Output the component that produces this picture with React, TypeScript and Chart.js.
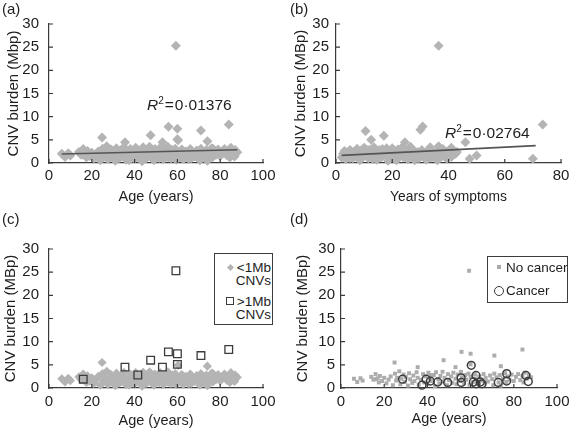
import React, { useEffect, useRef } from 'react';
import { Chart, registerables } from 'chart.js';
Chart.register(...registerables);

const FONT = "'Liberation Sans', Arial, Helvetica, sans-serif";
Chart.defaults.font.family = FONT;

const TEXT = '#1e1e1e';
const AXIS = '#3a3a3a';
const DIAMOND = 'rgb(180,180,180)';
const SMALLSQ = 'rgb(172,172,172)';
const DARK = '#3c3c3c';
const TREND = '#555555';

// ---- Data (age panels a, c, d) ----
// patients with only <1Mb CNVs and no cancer
const lowAge = [6, 7.5, 9, 10, 14, 15, 16, 17, 17.5, 18, 19, 20, 21, 22, 23, 24, 25, 25.5, 26, 27, 27.5, 28, 29, 29.5, 30, 31, 31.5, 32, 33, 33.5, 34, 35, 35.5, 36, 37, 38, 38.5, 39, 40, 40.5, 41, 42, 43, 43.5, 44, 45, 45.5, 46, 47, 47.5, 48, 49, 49.5, 50, 51, 51.5, 52, 53, 53.5, 54, 55, 55.5, 56, 57, 57.5, 58, 59, 59.5, 60, 61, 62, 62.5, 63, 64, 65, 66, 66.5, 67, 68, 69, 70, 70.5, 71, 72, 73, 73.5, 74, 75, 76, 76.5, 77, 78, 79, 80, 81, 82, 83, 84, 84.5, 85, 86, 87, 88, 24.8, 74];
const lowBurden = [2.0, 1.3, 2.1, 1.6, 2.4, 1.8, 3.0, 2.1, 1.2, 2.6, 1.5, 2.2, 1.0, 1.8, 2.5, 0.6, 3.1, 1.6, 2.2, 3.6, 0.8, 2.0, 2.9, 1.3, 2.4, 0.5, 3.2, 1.9, 1.1, 2.7, 1.5, 3.4, 2.2, 0.7, 1.8, 3.0, 1.2, 2.5, 0.9, 3.3, 2.0, 1.5, 2.8, 0.4, 3.4, 1.9, 1.0, 2.6, 3.5, 1.4, 2.2, 0.6, 3.0, 1.7, 2.5, 1.1, 3.3, 2.0, 0.8, 2.9, 1.5, 3.5, 2.3, 1.0, 2.8, 1.8, 3.1, 0.7, 2.4, 1.3, 2.9, 1.9, 0.9, 2.5, 1.6, 3.0, 1.0, 2.2, 1.4, 2.7, 1.9, 0.6, 3.1, 2.3, 1.2, 2.8, 0.5, 2.0, 3.2, 1.3, 2.5, 1.8, 2.9, 1.5, 2.4, 3.0, 1.7, 2.6, 1.2, 3.3, 2.0, 2.8, 2.3, 5.5, 4.7];
// patients with >1Mb CNVs
const bigAge = [16, 35.5, 41.5, 47.5, 53, 55.8, 60, 60, 59.3, 71, 84];
const bigBurden = [1.9, 4.5, 2.8, 6.0, 4.5, 7.8, 7.4, 5.1, 25.3, 7.0, 8.3];
// cancer patients
const cancerAge = [28.5, 37.5, 39.4, 41.4, 44.8, 49.4, 55.6, 55.7, 60.3, 61.3, 62.5, 62.5, 64.5, 65.3, 72.8, 76.7, 76.7, 85.6, 86.7];
const cancerBurden = [1.9, 0.6, 1.9, 1.5, 1.3, 1.2, 2.2, 1.2, 4.9, 1.3, 2.7, 0.9, 1.3, 0.9, 1.2, 3.1, 1.5, 2.7, 1.4];
// trend line (a)
const trendAgeX = [6, 88];
const trendAgeY = [1.93, 2.85];

// ---- Data (years of symptoms, panel b) ----
const symYears = [2, 2.5, 3, 3.5, 4, 4.5, 5, 5.5, 6, 6.5, 7, 7.5, 8, 8.5, 9, 9.5, 10, 10.5, 11, 11.5, 12, 12.5, 13, 13.5, 14, 14.5, 15, 15.5, 16, 16.5, 17, 17.5, 18, 18.5, 19, 19.5, 20, 20.5, 21, 21.5, 22, 22.5, 23, 23.5, 24, 24.5, 25, 25.5, 26, 26.5, 27, 27.5, 28, 28.5, 29, 29.5, 30, 30.8, 30.5, 31, 31.5, 32, 32.5, 33, 33.5, 34, 34.5, 36.5, 35.5, 36, 36.5, 37, 37.5, 38, 38.5, 39, 39.5, 40, 40.5, 41, 42, 42.5, 43, 46, 47.5, 50, 70, 73.5, 3, 5, 7, 9, 11, 13, 15, 18, 21, 24, 27, 29, 33, 36, 39, 41];
const symBurden = [1.2, 2.0, 1.6, 0.8, 2.3, 1.4, 2.8, 1.9, 1.0, 2.5, 1.6, 3.1, 2.0, 0.6, 2.7, 1.3, 3.3, 6.9, 2.1, 1.0, 2.9, 5.0, 1.7, 3.4, 2.4, 0.7, 1.9, 2.8, 1.2, 3.0, 5.9, 2.2, 1.5, 0.5, 2.6, 1.8, 3.2, 1.1, 2.3, 0.6, 2.9, 1.6, 2.0, 3.4, 1.2, 4.5, 2.6, 0.8, 2.1, 3.5, 1.4, 2.7, 0.6, 1.9, 2.4, 1.0, 7.2, 7.9, 2.8, 1.5, 2.2, 0.7, 1.8, 2.9, 3.4, 1.2, 2.3, 25.3, 1.7, 2.6, 3.6, 1.1, 2.0, 3.0, 1.4, 2.5, 0.9, 1.9, 2.8, 1.3, 2.1, 2.0, 2.4, 4.5, 0.9, 1.6, 0.9, 8.3, 2.6, 1.1, 2.3, 1.8, 2.8, 0.9, 2.5, 3.2, 1.6, 2.9, 3.1, 1.5, 1.1, 0.6, 1.7, 3.3];
const trendSymX = [2, 71];
const trendSymY = [1.65, 3.74];

// ticks
const yTickStep = 5;
const yMax = 30;
const xTickStep = 20;
const ageMax = 100;
const symMax = 80;

const pts = (xs: number[], ys: number[]) => xs.map((x, i) => ({ x, y: ys[i] }));

const inwardTicks = {
  id: 'inwardTicks',
  afterDraw(chart: any) {
    const { ctx, chartArea } = chart;
    const xs = chart.scales.x;
    const ys = chart.scales.y;
    ctx.save();
    ctx.strokeStyle = AXIS;
    ctx.lineWidth = 1.2;
    ctx.beginPath();
    for (const t of ys.ticks) {
      const py = ys.getPixelForValue(t.value);
      ctx.moveTo(chartArea.left, py);
      ctx.lineTo(chartArea.left + 4, py);
    }
    for (const t of xs.ticks) {
      const px = xs.getPixelForValue(t.value);
      ctx.moveTo(px, chartArea.bottom);
      ctx.lineTo(px, chartArea.bottom - 4);
    }
    ctx.stroke();
    ctx.restore();
  },
};

type Geo = {
  left: number; top: number; width: number; height: number;
  areaLeft: number; areaTop: number; padRight: number; xH: number;
  xMax: number; xTitle: string; yTitle: string; xTitleSize: number;
  yTickPad: number; xTickPad: number; yTitlePad: number; xTitlePad: number;
};

function Panel({ g, datasets }: { g: Geo; datasets: any[] }) {
  const ref = useRef<HTMLCanvasElement>(null);
  useEffect(() => {
    const chart = new Chart(ref.current as HTMLCanvasElement, {
      type: 'scatter',
      data: { datasets },
      options: {
        animation: false,
        responsive: false,
        events: [],
        layout: { padding: { left: 0, top: g.areaTop, right: g.padRight, bottom: 0 } },
        plugins: { legend: { display: false }, tooltip: { enabled: false } },
        scales: {
          x: {
            type: 'linear', min: 0, max: g.xMax,
            afterFit: (s: any) => { s.height = g.xH; },
            ticks: { stepSize: xTickStep, padding: g.xTickPad, color: TEXT, font: { size: 15 }, maxRotation: 0, autoSkip: false },
            grid: { display: false, drawTicks: false },
            border: { display: true, color: AXIS, width: 1.2 },
            title: { display: true, text: g.xTitle, color: TEXT, font: { size: g.xTitleSize }, padding: { top: 0, bottom: g.xTitlePad } },
          },
          y: {
            type: 'linear', min: 0, max: yMax,
            afterFit: (s: any) => { s.width = g.areaLeft; },
            ticks: { stepSize: yTickStep, padding: g.yTickPad, color: TEXT, font: { size: 15 }, autoSkip: false },
            grid: { display: false, drawTicks: false },
            border: { display: true, color: AXIS, width: 1.2 },
            title: { display: true, text: g.yTitle, color: TEXT, font: { size: 15 }, padding: { top: g.yTitlePad, bottom: 0 } },
          },
        },
      } as any,
      plugins: [inwardTicks],
    });
    return () => chart.destroy();
  }, []);
  return (
    <canvas
      ref={ref}
      width={g.width}
      height={g.height}
      style={{ position: 'absolute', left: g.left, top: g.top, width: g.width, height: g.height }}
    />
  );
}

const geoA: Geo = { left: 0, top: 0, width: 288, height: 215, areaLeft: 49, areaTop: 24, padRight: 25, xH: 52, xMax: ageMax, xTitle: 'Age (years)', yTitle: 'CNV burden (Mbp)', xTitleSize: 14.5, yTickPad: 10, xTickPad: 4, yTitlePad: 5, xTitlePad: 9 };
const geoB: Geo = { left: 288, top: 0, width: 289, height: 215, areaLeft: 48, areaTop: 24, padRight: 16, xH: 52, xMax: symMax, xTitle: 'Years of symptoms', yTitle: 'CNV burden (MBp)', xTitleSize: 13.8, yTickPad: 7, xTickPad: 4, yTitlePad: 4, xTitlePad: 9.5 };
const geoC: Geo = { left: 0, top: 215, width: 288, height: 215, areaLeft: 49, areaTop: 34, padRight: 25, xH: 42, xMax: ageMax, xTitle: 'Age (years)', yTitle: 'CNV burden (MBp)', xTitleSize: 14.5, yTickPad: 10, xTickPad: 5, yTitlePad: 2, xTitlePad: 0 };
const geoD: Geo = { left: 288, top: 215, width: 289, height: 215, areaLeft: 53, areaTop: 34, padRight: 20, xH: 42, xMax: ageMax, xTitle: 'Age (years)', yTitle: 'CNV burden (MBp)', xTitleSize: 14.5, yTickPad: 6, xTickPad: 5, yTitlePad: 6, xTitlePad: 2 };

const trendDs = (xs: number[], ys: number[]) => ({
  data: pts(xs, ys), showLine: true, borderColor: TREND, borderWidth: 1.6,
  pointRadius: 0, clip: false,
});
const diamondDs = (data: any[], r: number) => ({
  data, pointStyle: 'rectRot', pointRadius: r, pointBackgroundColor: DIAMOND,
  pointBorderWidth: 0, backgroundColor: DIAMOND, borderWidth: 0, clip: false,
});

const allAgePts = [...pts(lowAge, lowBurden), ...pts(cancerAge, cancerBurden), ...pts(bigAge, bigBurden)];

const dsA = [trendDs(trendAgeX, trendAgeY), diamondDs(allAgePts, 5)];
const dsB = [trendDs(trendSymX, trendSymY), diamondDs(pts(symYears, symBurden), 5)];
const dsC = [
  { data: pts(bigAge, bigBurden), pointStyle: 'rect', pointRadius: 5.4, pointBackgroundColor: 'rgba(0,0,0,0)', pointBorderColor: DARK, pointBorderWidth: 1.3, clip: false },
  diamondDs([...pts(lowAge, lowBurden), ...pts(cancerAge, cancerBurden)], 4.6),
];
const dsD = [
  { data: pts(cancerAge, cancerBurden), pointStyle: 'circle', pointRadius: 3.9, pointBackgroundColor: 'rgba(0,0,0,0)', pointBorderColor: DARK, pointBorderWidth: 1.5, clip: false },
  { data: [...pts(lowAge, lowBurden), ...pts(bigAge, bigBurden)], pointStyle: 'rect', pointRadius: 2.8, pointBackgroundColor: SMALLSQ, pointBorderWidth: 0, clip: false },
];

const abs = (left: number, top: number, extra: any = {}) => ({ position: 'absolute' as const, left, top, ...extra });
const txt = { font: `15px ${FONT}`, color: TEXT, lineHeight: '16px', whiteSpace: 'nowrap' as const };
const legTxt = { font: `13.5px ${FONT}`, color: TEXT, lineHeight: '14px', whiteSpace: 'nowrap' as const };

function R2({ left, top, value }: { left: number; top: number; value: string }) {
  return (
    <div style={abs(left, top, { font: `15.5px ${FONT}`, color: TEXT, lineHeight: '16px', whiteSpace: 'nowrap' })}>
      <i>R</i>
      <span style={{ fontSize: 10, position: 'relative', top: -6 }}>2</span>
      <span style={{ margin: '0 1px' }}>=</span>
      {value}
    </div>
  );
}

export default function App() {
  return (
    <div style={{ position: 'fixed', left: 0, top: 0, width: 577, height: 430, background: '#fff', overflow: 'hidden' }}>
      <Panel g={geoA} datasets={dsA} />
      <Panel g={geoB} datasets={dsB} />
      <Panel g={geoC} datasets={dsC} />
      <Panel g={geoD} datasets={dsD} />

      <div style={abs(2, 1, txt)}>(a)</div>
      <div style={abs(290, 1, txt)}>(b)</div>
      <div style={abs(2, 211, txt)}>(c)</div>
      <div style={abs(290, 211, txt)}>(d)</div>

      <R2 left={147} top={97} value="0·01376" />
      <R2 left={445} top={125} value="0·02764" />

      {/* legend (c) */}
      <div style={abs(214, 253, { width: 57, height: 70, border: `1.5px solid ${DARK}`, background: '#fff' })}>
        <div style={abs(13, 11, { width: 5, height: 5, background: DIAMOND, transform: 'rotate(45deg)' })} />
        <div style={abs(0, 7, { ...legTxt, width: 56, textAlign: 'right' })}>&lt;1Mb</div>
        <div style={abs(0, 20, { ...legTxt, width: 56, textAlign: 'right' })}>CNVs</div>
        <div style={abs(11, 43, { width: 6, height: 6, border: `1.3px solid ${DARK}` })} />
        <div style={abs(0, 41, { ...legTxt, width: 56, textAlign: 'right' })}>&gt;1Mb</div>
        <div style={abs(0, 54, { ...legTxt, width: 56, textAlign: 'right' })}>CNVs</div>
      </div>

      {/* legend (d) */}
      <div style={abs(487, 256, { width: 79, height: 45, border: `1.5px solid ${DARK}`, background: '#fff' })}>
        <div style={abs(9, 8, { width: 4, height: 4, background: SMALLSQ })} />
        <div style={abs(18, 4, legTxt)}>No cancer</div>
        <div style={abs(6, 29, { width: 8, height: 8, borderRadius: '50%', border: `1.5px solid ${DARK}` })} />
        <div style={abs(18, 27, legTxt)}>Cancer</div>
      </div>
    </div>
  );
}
